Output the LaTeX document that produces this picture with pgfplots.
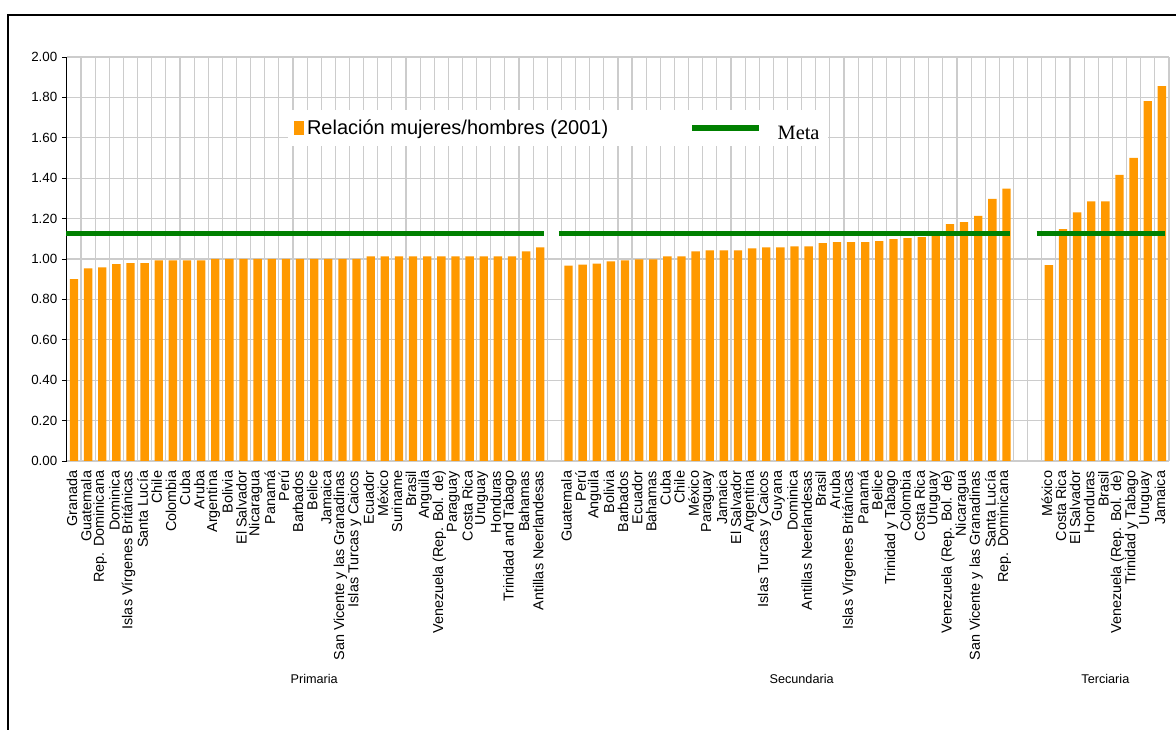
\documentclass[border=0pt]{standalone}
\usepackage{fontspec}
\setmainfont{Liberation Sans}
\newfontfamily\timesfont{Liberation Serif}
\usepackage{pgfplots}
\pgfplotsset{compat=1.18}
\definecolor{barorange}{RGB}{255,153,0}
\definecolor{metagreen}{RGB}{0,128,0}
\definecolor{gridgray}{RGB}{204,204,204}

\begin{document}
\begin{tikzpicture}
\path[use as bounding box] (-50.2pt,-201.75pt) rectangle (831.8pt,345.75pt);
\fill[white] (-50.2pt,-201.75pt) rectangle (831.8pt,345.75pt);
\draw[black, line width=0.9pt] (-44.2pt,-210pt) -- (-44.2pt,334.5pt) -- (840pt,334.5pt);
\begin{axis}[
    at={(0,0)}, anchor=south west,
    scale only axis,
    width=826.5pt, height=303pt,
    xmin=-0.5, xmax=77.5,
    ymin=0, ymax=2,
    clip=false,
    axis lines*=left,
    x axis line style={draw=gridgray, line width=0.9pt},
    y axis line style={draw=black, line width=0.8pt},
    ytick={0,0.2,...,2.01},
    ymajorgrids,
    major grid style={draw=gridgray, line width=0.85pt},
    minor xtick={-0.5,0.5,...,77.6},
    xminorgrids,
    minor grid style={draw=gridgray, line width=0.85pt},
    tick align=outside,
    major tick length=3.75pt,
    ytick style={draw=black, line width=0.7pt},
    xtick style={draw=none},
    minor tick style={draw=none},
    /pgf/number format/assume math mode=true,
    yticklabel style={font=\fontsize{10}{12}\selectfont,
        /pgf/number format/.cd, fixed, fixed zerofill, precision=2},
    xtick={0,1,...,33,35,36,...,66,69,70,...,77},
    xticklabels={Granada, Guatemala, Rep. Dominicana, Dominica, Islas Vírgenes Británicas,
        Santa Lucía, Chile, Colombia, Cuba, Aruba, Argentina, Bolivia, El Salvador,
        Nicaragua, Panamá, Perú, Barbados, Belice, Jamaica, San Vicente y las Granadinas,
        Islas Turcas y Caicos, Ecuador, México, Suriname, Brasil, Anguila,
        Venezuela (Rep. Bol. de), Paraguay, Costa Rica, Uruguay, Honduras,
        Trinidad and Tabago, Bahamas, Antillas Neerlandesas,
        Guatemala, Perú, Anguila, Bolivia, Barbados, Ecuador, Bahamas, Cuba, Chile,
        México, Paraguay, Jamaica, El Salvador, Argentina, Islas Turcas y Caicos,
        Guyana, Dominica, Antillas Neerlandesas, Brasil, Aruba,
        Islas Vírgenes Británicas, Panamá, Belice, Trinidad y Tabago, Colombia,
        Costa Rica, Uruguay, Venezuela (Rep. Bol. de), Nicaragua,
        San Vicente y las Granadinas, Santa Lucía, Rep. Dominicana,
        México, Costa Rica, El Salvador, Honduras, Brasil, Venezuela (Rep. Bol. de),
        Trinidad y Tabago, Uruguay, Jamaica},
    xticklabel style={yshift=-2.5pt, xshift=-1.5pt, rotate=90, anchor=east,
        font=\fontsize{10.8}{12}\selectfont, inner sep=1pt},
    legend columns=2,
    legend style={at={(rel axis cs:0.2007,0.824)}, anchor=west,
        fill=white, draw=none, inner xsep=4pt, inner ysep=5pt,
        font=\fontsize{15}{17}\selectfont,
        /tikz/column 2/.style={column sep=59pt},
        /tikz/column 3/.style={column sep=10pt}},
]
\addplot[ybar, bar width=0.59, fill=barorange, draw=none,
    legend image code/.code={\fill[barorange] (0pt,-5pt) rectangle (8pt,5pt);}]
coordinates {
    (0,0.900) (1,0.954) (2,0.959) (3,0.974) (4,0.979) (5,0.979) (6,0.993) (7,0.993)
    (8,0.993) (9,0.993) (10,1.000) (11,1.000) (12,1.000) (13,1.000) (14,1.000)
    (15,1.000) (16,1.000) (17,1.000) (18,1.000) (19,1.000) (20,1.000) (21,1.013)
    (22,1.013) (23,1.013) (24,1.013) (25,1.013) (26,1.013) (27,1.013) (28,1.013)
    (29,1.013) (30,1.013) (31,1.013) (32,1.038) (33,1.058)
    (35,0.967) (36,0.972) (37,0.977) (38,0.988) (39,0.993) (40,0.998) (41,0.998)
    (42,1.013) (43,1.013) (44,1.038) (45,1.043) (46,1.043) (47,1.043) (48,1.053)
    (49,1.058) (50,1.058) (51,1.063) (52,1.063) (53,1.078) (54,1.083) (55,1.083)
    (56,1.083) (57,1.088) (58,1.098) (59,1.103) (60,1.108) (61,1.118) (62,1.173)
    (63,1.183) (64,1.213) (65,1.298) (66,1.348)
    (69,0.970) (70,1.148) (71,1.231) (72,1.285) (73,1.285) (74,1.416) (75,1.500)
    (76,1.782) (77,1.856)
};
\addlegendentry{Relación mujeres/hombres (2001)}

\addplot[metagreen, line width=4pt,
    legend image code/.code={\draw[metagreen, line width=4pt] (0pt,0pt) -- (50pt,0pt);}]
coordinates {(-0.57,1.125) (33.26,1.125)};
\addlegendentry{\raisebox{-8pt}{\fontsize{15.3}{17}\timesfont Meta}}
\addplot[metagreen, line width=4pt, forget plot]
coordinates {(34.32,1.125) (66.24,1.125)};
\addplot[metagreen, line width=4pt, forget plot]
coordinates {(68.13,1.125) (77.2,1.125)};

\node[font=\fontsize{9.5}{11}\selectfont] at (axis cs:17,0) [yshift=-163.5pt] {Primaria};
\node[font=\fontsize{9.5}{11}\selectfont] at (axis cs:51.5,0) [yshift=-163.5pt] {Secundaria};
\node[font=\fontsize{9.5}{11}\selectfont] at (axis cs:73,0) [yshift=-163.5pt] {Terciaria};
\end{axis}
\end{tikzpicture}
\end{document}
